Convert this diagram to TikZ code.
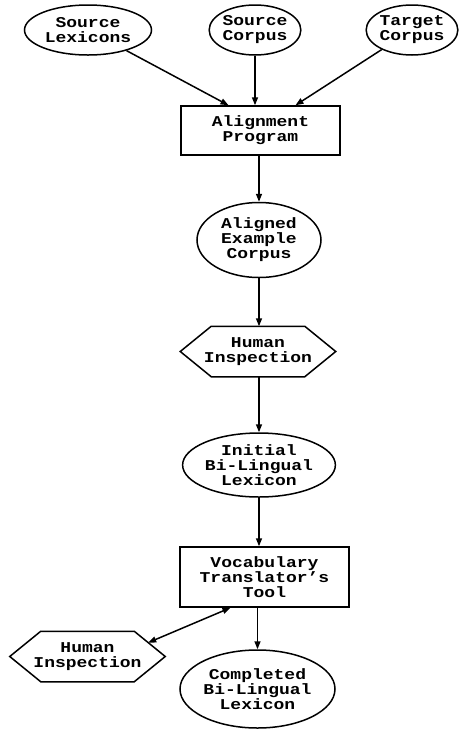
\documentclass[tikz,border=0pt]{standalone}
\usepackage{fontspec}
\usetikzlibrary{shapes.geometric,arrows.meta,calc}
\newfontfamily\courfont[FakeStretch=1.2]{Liberation Mono}
\tikzset{
  base/.style={draw=black, line width=1.5pt, inner sep=0pt, align=center,
    font=\courfont\bfseries\fontsize{15}{15}\selectfont},
  oval/.style={base, ellipse},
  box/.style={base, rectangle},
  hexbox/.style={base, draw=none, rectangle, minimum width=154pt, minimum height=49pt},
  link/.style={line width=1.5pt, -{Triangle[length=8pt,width=6pt]}},
  dlink/.style={line width=1.5pt, {Triangle[length=8pt,width=6pt]}-{Triangle[length=8pt,width=6pt]}},
  hexline/.style={line width=1.5pt, line join=miter}
}
\newcommand\hexoutline[1]{%
  \draw[hexline] (#1.west) -- ([xshift=31pt]#1.north west) -- ([xshift=-31pt]#1.north east)
    -- (#1.east) -- ([xshift=-31pt]#1.south east) -- ([xshift=31pt]#1.south west) -- cycle;}
\begin{document}
\begin{tikzpicture}[x=1pt,y=-1pt]
\useasboundingbox (0,0) rectangle (459,732);
\node[oval, minimum width=127pt, minimum height=50pt] (sl) at (88,30) {Source\\Lexicons};
\node[oval, minimum width=80pt, minimum height=50pt] (sc) at (255,30) {Source\\Corpus};
\node[oval, minimum width=90pt, minimum height=50pt] (tc) at (412,30) {Target\\Corpus};
\node[box, minimum width=159pt, minimum height=49pt] (ap) at (260.5,130.5) {Alignment\\Program};
\node[oval, minimum width=124pt, minimum height=75pt] (ae) at (259,240) {Aligned\\Example\\Corpus};
\node[hexbox] (hi1) at (258,351.5) {Human\\Inspection};
\hexoutline{hi1}
\node[oval, minimum width=125pt, minimum height=64pt] (ib) at (259,465) {Initial\\Bi-Lingual\\Lexicon};
\node[box, minimum width=169pt, minimum height=60pt] (vt) at (264.5,577) {Vocabulary\\Translator’s\\Tool};
\node[oval, minimum width=155pt, minimum height=78pt] (ce) at (257.5,689) {Completed\\Bi-Lingual\\Lexicon};
\node[hexbox] (hi2) at (87.5,656.5) {Human\\Inspection};
\hexoutline{hi2}
\coordinate (ap1) at ([xshift=-32pt]ap.north);
\coordinate (ap3) at ([xshift=35pt]ap.north);
\coordinate (vtl) at ([xshift=-34pt]vt.south);
\coordinate (hi2e) at ($([xshift=-31pt]hi2.north east)!0.45!(hi2.east)$);
\draw[link] (sl) -- (ap1);
\draw[link] (sc) -- (sc |- ap.north);
\draw[link] (tc) -- (ap3);
\draw[link] (ae.north |- ap.south) -- (ae.north);
\draw[link] (ae.south) -- (ae.south |- hi1.north);
\draw[link] (ib.north |- hi1.south) -- (ib.north);
\draw[link] (ib.south) -- (ib.south |- vt.north);
\draw[link] (ce.north |- vt.south) -- (ce.north);
\draw[dlink] (vtl) -- (hi2e);
\end{tikzpicture}
\end{document}
